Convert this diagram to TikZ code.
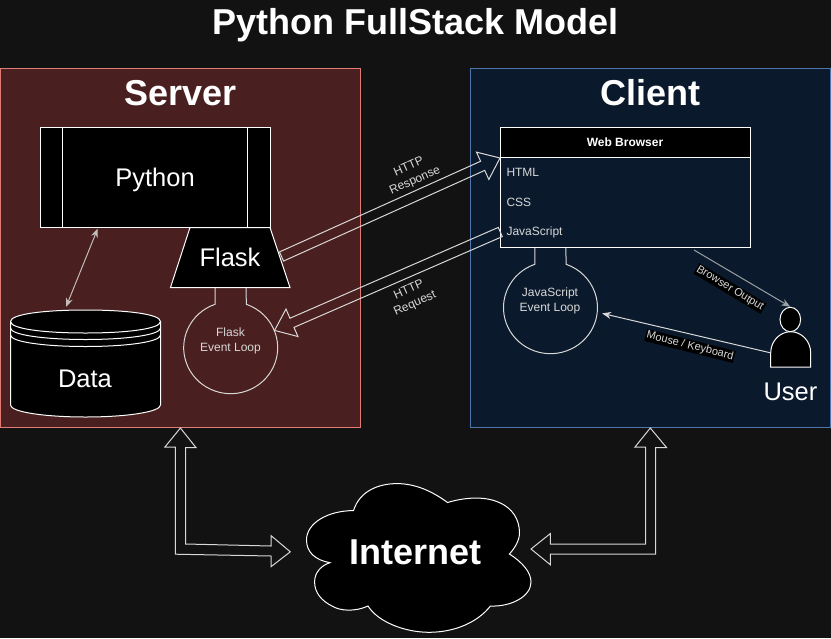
\documentclass[tikz,border=0pt]{standalone}
\usepackage{fontspec}
\setmainfont{Liberation Sans}
\usetikzlibrary{arrows.meta,calc,shapes.geometric}

\definecolor{pagedark}{HTML}{121212}
\definecolor{serverfill}{HTML}{4A1F1F}
\definecolor{serverline}{HTML}{E07B75}
\definecolor{clientfill}{HTML}{0A1A2C}
\definecolor{clientline}{HTML}{5075AA}
\definecolor{softline}{HTML}{D8D8D8}

\newcommand{\sized}[1]{\fontsize{#1}{#1}\selectfont}

\tikzset{
  outlined/.style={draw=white, line width=1pt, fill=black, text=white, inner sep=0pt},
  softpath/.style={draw=softline, line width=1pt},
  heading/.style={text=white, font=\sized{36}\bfseries, inner sep=0pt},
  big/.style={text=white, font=\sized{25.5}, inner sep=0pt},
  small/.style={text=softline, font=\sized{12}, align=center, inner sep=0pt},
  tagged/.style={text=softline, fill=black, font=\sized{11}, inner sep=1pt},
  rowitem/.style={text=softline, font=\sized{12}, minimum width=250, minimum height=30, text width=238, inner sep=6pt},
  ring/.style={circle, minimum size=94, inner sep=0pt}
}

% neck and ball under a box
\newcommand{\ballpath}[1]{
  \draw[softpath] ($(#1)+(-15.5,-59.5)$) -- ($(#1)+(-15.5,-43)$)
    arc[start angle=250.5, end angle=-70.5, x radius=47, y radius=46]
    -- ($(#1)+(15.5,-59.5)$);
}

% hollow arrow
\newcommand{\hollowarrow}[2]{
  \coordinate (hneck) at ($(#2)!19pt!(#1)$);
  \draw[draw=softline, line width=1pt, line join=miter]
    ($(#1)!5pt!90:(#2)$) -- ($(hneck)!5pt!90:(#2)$) -- ($(hneck)!15pt!90:(#2)$)
    -- (#2) -- ($(hneck)!15pt!-90:(#2)$) -- ($(hneck)!5pt!-90:(#2)$)
    -- ($(#1)!5pt!-90:(#2)$) -- cycle;
}

\begin{document}
\begin{tikzpicture}[x=1pt, y=-1pt]
    \useasboundingbox (0,0) rectangle (831,638);
    \fill[pagedark] (0,0) rectangle (831,638);

    % panels
    \node[draw=serverline, fill=serverfill, minimum width=360, minimum height=359.5, line width=1pt, inner sep=0pt] (server) at (180,247.75) {};
    \node[draw=clientline, fill=clientfill, minimum width=360, minimum height=359.5, line width=1pt, inner sep=0pt] (client) at (650.5,247.75) {};

    % titles
    \node[heading] (title) at (415.5,25) {Python FullStack Model};
    \node[heading] (servertitle) at (180.5,93) {Server};
    \node[heading] (clienttitle) at (650.5,93) {Client};

    % server side
    \node[outlined, minimum width=230, minimum height=99.5] (python) at (155.25,177.25) {};
    \draw[draw=white, line width=1pt] ($(python.north west)+(23,0)$) -- ($(python.south west)+(23,0)$);
    \draw[draw=white, line width=1pt] ($(python.north east)+(-23,0)$) -- ($(python.south east)+(-23,0)$);
    \node[big] (pythontext) at (155,180) {Python};

    \draw[outlined] (190,227.5) -- (270,227.5) -- (290,287.5) -- (170.5,287.5) -- cycle;
    \node[big] (flask) at (230,257) {Flask};
    \coordinate (flaskout) at (281.5,256.5);

    \node[ring] (flaskloop) at (230.5,347.3) {};
    \ballpath{flaskloop}
    \node[small] (flaskloopt) at (230.5,341) {Flask\\[3pt]Event Loop};

    % data store
    \draw[outlined] (10.5,321.5) -- (10.5,405)
      .. controls (10.5,412) and (45,417) .. (85.5,417)
      .. controls (126,417) and (160.5,412) .. (160.5,405)
      -- (160.5,321.5)
      .. controls (160.5,314) and (126,310) .. (85.5,310)
      .. controls (45,310) and (10.5,314) .. (10.5,321.5) -- cycle;
    \draw[draw=white, line width=1pt] (10.5,321.5) .. controls (10.5,329) and (45,333) .. (85.5,333)
      .. controls (126,333) and (160.5,329) .. (160.5,321.5);
    \draw[draw=white, line width=1pt] (10.5,328) .. controls (10.5,335) and (45,339.5) .. (85.5,339.5)
      .. controls (126,339.5) and (160.5,335) .. (160.5,328);
    \draw[draw=white, line width=1pt] (10.5,335) .. controls (10.5,342) and (45,346.5) .. (85.5,346.5)
      .. controls (126,346.5) and (160.5,342) .. (160.5,335);
    \node[big] (data) at (85,379) {Data};
    \coordinate (datatop) at (66,307);
    \draw[draw=softline!85!serverfill, line width=1pt, {Stealth[length=9pt,width=7pt]}-{Stealth[length=9pt,width=7pt]}] ($(python.south west)+(58,1)$) -- (datatop);

    % client side
    \node[draw=white, line width=1pt, minimum width=250, minimum height=119.5, inner sep=0pt] (browser) at (625.5,187.25) {};
    \node[outlined, minimum width=250, minimum height=30] (browserhead) at (625.5,142.5) {};
    \node[text=white, font=\sized{12}\bfseries, inner sep=0pt] (browsertext) at (625,142) {Web Browser};
    \node[rowitem] (htmlrow) at (625.5,172) {HTML};
    \node[rowitem] (cssrow) at (625.5,202) {CSS};
    \node[rowitem] (jsrow) at (625.5,232) {JavaScript};

    \node[ring] (jsloop) at (550.3,307.3) {};
    \ballpath{jsloop}
    \node[small] (jsloopt) at (550,301) {JavaScript\\[3pt]Event Loop};

    % user
    \draw[outlined] (770.7,367) -- (770.7,353) .. controls (770.7,341) and (780,331.7) .. (790.7,331.7)
      .. controls (801.4,331.7) and (810.7,341) .. (810.7,353) -- (810.7,367) -- cycle;
    \node[outlined, ellipse, minimum width=20.6, minimum height=24.4] (userhead) at (790.3,319.5) {};
    \node[big] (usertext) at (790.5,392) {User};
    \coordinate (userbody) at (770,352.7);

    % lines to and from the user
    \draw[draw=softline!70!clientfill, line width=1pt, -{Stealth[length=9pt,width=7pt]}] ($(browser.south east)+(-57,2.5)$) -- (userhead.north);
    \draw[softpath, -{Stealth[length=9pt,width=7pt]}, shorten >=5pt] (userbody) -- (jsloop.-6);
    \node[tagged, rotate=-31] (outputlabel) at (730,288.5) {Browser Output};
    \node[tagged, rotate=-14] (inputlabel) at (690,346) {Mouse / Keyboard};

    % http arrows
    \hollowarrow{flaskout}{browserhead.south west}
    \hollowarrow{jsrow.west}{flaskloop.21}
    \node[small, rotate=24] (responselabel) at (412,174) {HTTP\\[3pt]Response};
    \node[small, rotate=24] (requestlabel) at (412,297) {HTTP\\[3pt]Request};

    % internet
    \draw[outlined] (353.5,510.6) .. controls (360,490) and (380,483.6) .. (397,483.6)
      .. controls (415,483.6) and (432,491) .. (447.5,502.5)
      .. controls (490,490) and (519.5,505) .. (519.5,533)
      .. controls (519.5,540) and (515,548) .. (509.4,554)
      .. controls (522,562) and (531,572) .. (531,582)
      .. controls (531,597) and (510,607) .. (490.4,606)
      .. controls (478,622) and (455,632.3) .. (429,632.3)
      .. controls (405,632.3) and (378,622) .. (368,606)
      .. controls (355,612) and (340,611) .. (332,606)
      .. controls (322,601) and (314.6,593) .. (314.6,582)
      .. controls (314.6,572) and (322,565) .. (330,562.7)
      .. controls (315,560) and (306.5,552) .. (306.5,540)
      .. controls (306.5,523) and (328,510.6) .. (353.5,510.6) -- cycle;
    \node[heading] (internet) at (415.5,552) {Internet};

    % wide arrows
    \coordinate (servergate) at ($(server.south)+(0.4,0)$);
    \coordinate (clientgate) at ($(client.south)+(-0.2,0)$);
    \coordinate (leftgate) at (290.3,551.8);
    \coordinate (rightgate) at (531,549);
    \draw[softpath, line join=miter] (servergate) -- ++(15.6,19.6) -- ++(-10.5,0) -- (185.5,544) -- (271,546)
      -- ++(0,-10.4) -- (leftgate) -- (271,566.7) -- ++(0,-10.7) -- (175.4,554.2) -- (175.4,447) -- ++(-10.5,0) -- cycle;
    \draw[softpath, line join=miter] (clientgate) -- ++(16.3,19.6) -- ++(-10.9,0) -- (655.7,554) -- (550.3,554)
      -- ++(0,10.7) -- (rightgate) -- (550.3,533.6) -- ++(0,10.4) -- (645.6,544) -- (645.6,447) -- ++(-10.6,0) -- cycle;
\end{tikzpicture}
\end{document}
